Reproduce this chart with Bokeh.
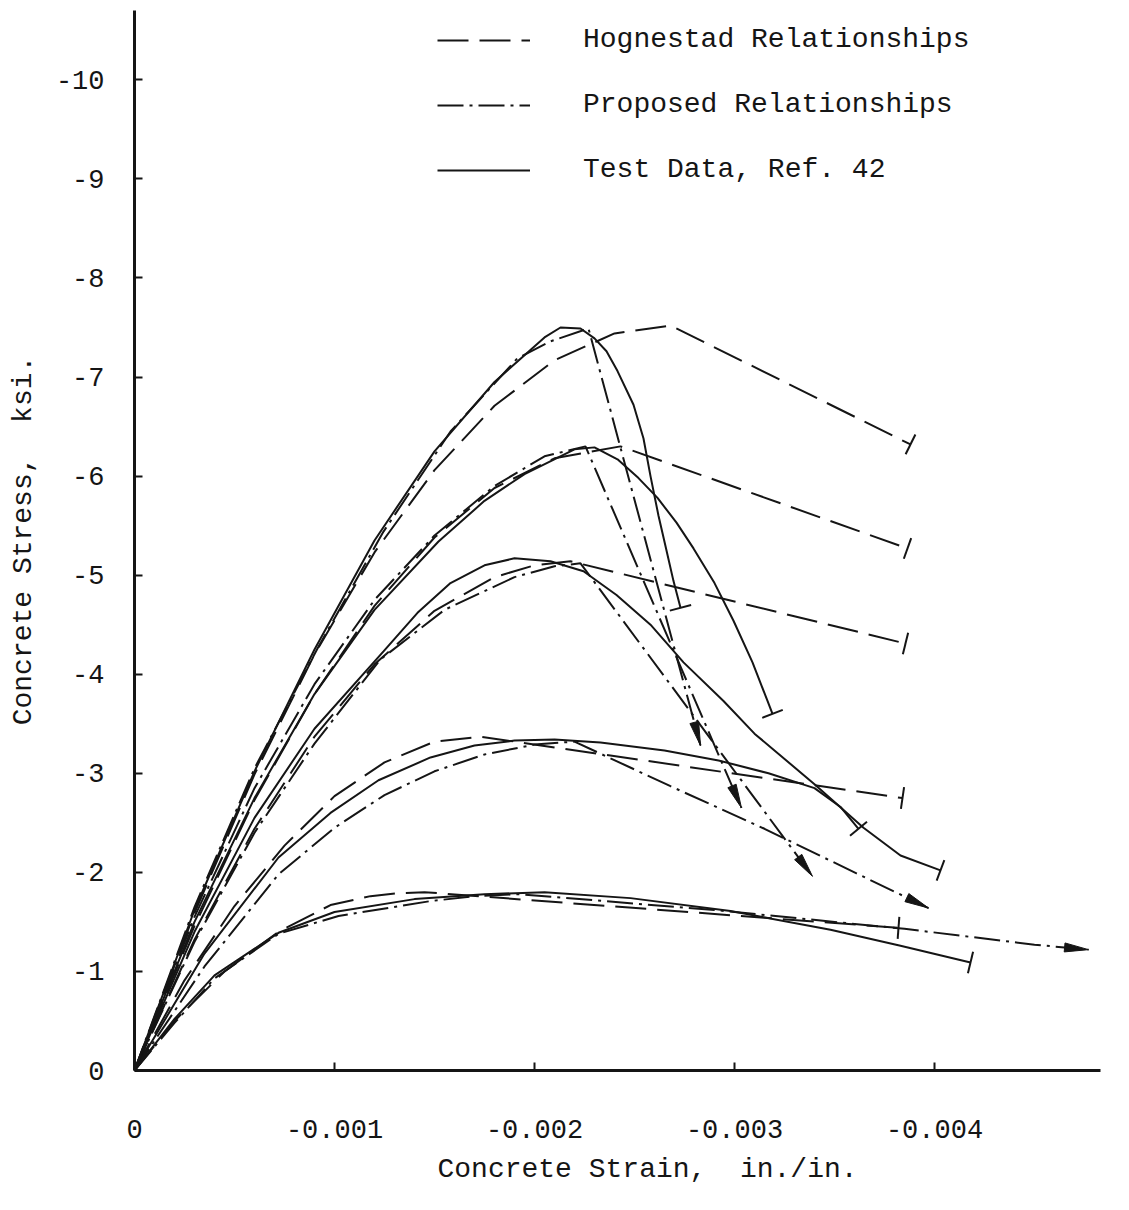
import math

from bokeh.embed import file_html
from bokeh.models import FixedTicker, Legend, LegendItem, Range1d, Title
from bokeh.plotting import figure
from bokeh.resources import INLINE

# Stress-strain curves for five concrete strengths.
# Strain is given in units of 1e-3 in./in. and stress in ksi, both as
# compressive magnitudes; they are plotted with a negative sign.

# f'c about 1.8 ksi
hog1_strain = [0, 0.2, 0.45, 0.72, 0.98, 1.18, 1.32, 1.45, 3.82]
hog1_stress = [0, 0.50, 1.00, 1.40, 1.67, 1.76, 1.79, 1.80, 1.44]
prop1_strain = [0, 0.2, 0.4, 0.72, 1.02, 1.48, 1.7, 1.92, 2.9, 3.85, 4.5, 4.77]
prop1_stress = [0, 0.48, 0.93, 1.38, 1.56, 1.71, 1.76, 1.78, 1.62, 1.43, 1.27, 1.22]
test1_strain = [0, 0.2, 0.4, 0.72, 1.0, 1.4, 1.75, 2.05, 2.48, 2.98, 3.48, 3.83, 4.18]
test1_stress = [0, 0.52, 0.96, 1.39, 1.60, 1.73, 1.78, 1.80, 1.74, 1.61, 1.42, 1.26, 1.09]

# f'c about 3.35 ksi
hog2_strain = [0, 0.25, 0.5, 0.75, 1.0, 1.25, 1.5, 1.73, 3.84]
hog2_stress = [0, 0.91, 1.66, 2.27, 2.77, 3.11, 3.32, 3.37, 2.75]
prop2_strain = [0, 0.35, 0.72, 1.0, 1.25, 1.5, 1.75, 2.0, 2.2, 2.68, 3.15, 3.61, 3.97]
prop2_stress = [0, 1.05, 1.98, 2.45, 2.78, 3.02, 3.19, 3.29, 3.32, 2.87, 2.44, 1.99, 1.64]
test2_strain = [0, 0.35, 0.72, 0.98, 1.22, 1.48, 1.7, 1.9, 2.1, 2.33, 2.65, 2.92,
                3.17, 3.4, 3.53, 3.62]
test2_stress = [0, 1.18, 2.15, 2.60, 2.93, 3.16, 3.28, 3.33, 3.34, 3.31, 3.23, 3.13,
                3.00, 2.85, 2.66, 2.44]

# f'c about 5.15 ksi
hog3_strain = [0, 0.3, 0.6, 0.9, 1.2, 1.5, 1.8, 2.0, 2.18, 3.855]
hog3_stress = [0, 1.32, 2.44, 3.37, 4.10, 4.64, 4.98, 5.10, 5.14, 4.31]
prop3_strain = [0, 0.3, 0.6, 0.9, 1.23, 1.55, 1.9, 2.1, 2.23, 3.39]
prop3_stress = [0, 1.30, 2.40, 3.30, 4.15, 4.65, 4.98, 5.09, 5.12, 1.96]
test3_strain = [0, 0.3, 0.6, 0.9, 1.245, 1.415, 1.58, 1.75, 1.9, 2.08, 2.245, 2.41,
                2.58, 2.745, 2.945, 3.1, 3.4, 3.645, 3.83, 4.03]
test3_stress = [0, 1.40, 2.55, 3.45, 4.23, 4.62, 4.92, 5.10, 5.17, 5.14, 5.04, 4.80,
                4.50, 4.12, 3.73, 3.40, 2.89, 2.45, 2.17, 2.02]

# f'c about 6.3 ksi
hog4_strain = [0, 0.3, 0.6, 0.9, 1.2, 1.5, 1.8, 2.1, 2.43, 3.865]
hog4_stress = [0, 1.46, 2.73, 3.80, 4.69, 5.38, 5.88, 6.18, 6.30, 5.27]
prop4_strain = [0, 0.3, 0.6, 0.9, 1.2, 1.5, 1.8, 2.05, 2.255, 3.035]
prop4_stress = [0, 1.55, 2.85, 3.90, 4.75, 5.40, 5.90, 6.20, 6.30, 2.65]
test4_strain = [0, 0.3, 0.6, 0.9, 1.2, 1.52, 1.75, 1.95, 2.2, 2.3, 2.415, 2.52,
                2.615, 2.71, 2.795, 2.9, 2.995, 3.09, 3.165, 3.19]
test4_stress = [0, 1.50, 2.75, 3.80, 4.65, 5.34, 5.75, 6.02, 6.27, 6.29, 6.17, 5.98,
                5.78, 5.53, 5.27, 4.92, 4.54, 4.12, 3.73, 3.60]

# f'c about 7.5 ksi
hog5_strain = [0, 0.3, 0.6, 0.9, 1.2, 1.5, 1.8, 2.1, 2.4, 2.68, 3.88]
hog5_stress = [0, 1.59, 2.99, 4.20, 5.23, 6.06, 6.71, 7.17, 7.44, 7.52, 6.32]
prop5_strain = [0, 0.3, 0.6, 0.915, 1.245, 1.58, 1.915, 2.08, 2.27, 2.83]
prop5_stress = [0, 1.65, 3.05, 4.26, 5.44, 6.45, 7.19, 7.36, 7.49, 3.28]
test5_strain = [0, 0.3, 0.6, 0.9, 1.2, 1.5, 1.8, 1.95, 2.05, 2.13, 2.23, 2.3, 2.36,
                2.415, 2.495, 2.545, 2.58, 2.62, 2.66, 2.695, 2.73]
test5_stress = [0, 1.62, 3.02, 4.25, 5.35, 6.25, 6.95, 7.22, 7.40, 7.50, 7.49, 7.39,
                7.26, 7.06, 6.72, 6.38, 6.00, 5.60, 5.25, 4.94, 4.67]

hognestad = [(hog1_strain, hog1_stress), (hog2_strain, hog2_stress),
             (hog3_strain, hog3_stress), (hog4_strain, hog4_stress),
             (hog5_strain, hog5_stress)]
proposed = [(prop1_strain, prop1_stress), (prop2_strain, prop2_stress),
            (prop3_strain, prop3_stress), (prop4_strain, prop4_stress),
            (prop5_strain, prop5_stress)]
tests = [(test1_strain, test1_stress), (test2_strain, test2_stress),
         (test3_strain, test3_stress), (test4_strain, test4_stress),
         (test5_strain, test5_stress)]

x_ticks = [0, -0.001, -0.002, -0.003, -0.004]
x_tick_labels = ["0", "-0.001", "-0.002", "-0.003", "-0.004"]
y_ticks = [0, -1, -2, -3, -4, -5, -6, -7, -8, -9, -10]
y_tick_labels = ["0", "-1", "-2", "-3", "-4", "-5", "-6", "-7", "-8", "-9", "-10"]

legend_labels = ["Hognestad Relationships", "Proposed Relationships",
                 "Test Data, Ref. 42"]
x_title = "Concrete Strain,\u00a0 in./in."
y_title = "Concrete Stress,\u00a0 ksi."

# ---------------------------------------------------------------- layout
FONT = "Liberation Mono"
INK = "#151515"
MILLI = 1e-3
X_END = 4.83      # right end of the strain axis, 1e-3 in./in.
Y_END = 10.7      # top end of the stress axis, ksi
LEFT, RIGHT, TOP, BOTTOM = 134, 29, 10, 140
WIDTH, HEIGHT = 1129, 1210
FRAME_W = WIDTH - LEFT - RIGHT
FRAME_H = HEIGHT - TOP - BOTTOM
PX_X = FRAME_W / X_END   # pixels per 1e-3 strain
PX_Y = FRAME_H / Y_END   # pixels per ksi

DASH = "31 11"
DASH_DOT = "26 6 3 6"
LW = 2.0


def plotted(strain, stress):
    return [-s * MILLI for s in strain], [-f for f in stress]


def end_direction(strain, stress):
    dx = (strain[-1] - strain[-2]) * PX_X
    dy = (stress[-1] - stress[-2]) * PX_Y
    n = math.hypot(dx, dy)
    return dx / n, dy / n


def end_bar(strain, stress, half=11.0):
    ux, uy = end_direction(strain, stress)
    nx, ny = -uy, ux
    s0, f0 = strain[-1] + nx * half / PX_X, stress[-1] + ny * half / PX_Y
    s1, f1 = strain[-1] - nx * half / PX_X, stress[-1] - ny * half / PX_Y
    (xa, xb), (ya, yb) = plotted([s0, s1], [f0, f1])
    return xa, ya, xb, yb


def arrow_head(strain, stress, length=24.0, half_w=4.5):
    ux, uy = end_direction(strain, stress)
    nx, ny = -uy, ux
    ts, tf = strain[-1], stress[-1]
    bs, bf = ts - ux * length / PX_X, tf - uy * length / PX_Y
    pts_s = [ts, bs + nx * half_w / PX_X, bs - nx * half_w / PX_X]
    pts_f = [tf, bf + ny * half_w / PX_Y, bf - ny * half_w / PX_Y]
    return plotted(pts_s, pts_f)


p = figure(
    width=WIDTH, height=HEIGHT,
    x_range=Range1d(0, -X_END * MILLI), y_range=Range1d(0, -Y_END),
    output_backend="svg", toolbar_location=None,
    min_border_left=LEFT, min_border_right=RIGHT,
    min_border_top=TOP, min_border_bottom=BOTTOM,
    y_axis_label=y_title,
)
p.outline_line_color = None
p.grid.visible = False
p.background_fill_color = "white"
p.border_fill_color = "white"

# Hognestad curves, each ending with a short bar
hog_renderer = None
for strain, stress in hognestad:
    xs, ys = plotted(strain, stress)
    r = p.line(xs, ys, line_color=INK, line_width=LW, line_dash=DASH)
    hog_renderer = hog_renderer or r
    x0, y0, x1, y1 = end_bar(strain, stress)
    p.segment(x0=[x0], y0=[y0], x1=[x1], y1=[y1], line_color=INK, line_width=2)

# Proposed curves, each ending with an arrowhead
prop_renderer = None
for strain, stress in proposed:
    xs, ys = plotted(strain, stress)
    r = p.line(xs, ys, line_color=INK, line_width=LW, line_dash=DASH_DOT)
    prop_renderer = prop_renderer or r
    hx, hy = arrow_head(strain, stress)
    p.patch(hx, hy, fill_color=INK, line_color=INK, line_width=1)

# Test data, each ending with a short bar
test_renderer = None
for strain, stress in tests:
    xs, ys = plotted(strain, stress)
    r = p.line(xs, ys, line_color=INK, line_width=LW)
    test_renderer = test_renderer or r
    x0, y0, x1, y1 = end_bar(strain, stress)
    p.segment(x0=[x0], y0=[y0], x1=[x1], y1=[y1], line_color=INK, line_width=2)

# Axes
for ax in (p.xaxis[0], p.yaxis[0]):
    ax.axis_line_color = INK
    ax.axis_line_width = 3
    ax.major_tick_line_color = INK
    ax.major_tick_line_width = 2
    ax.major_tick_in = 8
    ax.major_tick_out = 0
    ax.minor_tick_line_color = None
    ax.major_label_text_font = FONT
    ax.major_label_text_font_size = "27px"
    ax.major_label_text_color = INK
    ax.axis_label_text_font = FONT
    ax.axis_label_text_font_size = "28px"
    ax.axis_label_text_font_style = "normal"
    ax.axis_label_text_color = INK

p.xaxis[0].ticker = FixedTicker(ticks=x_ticks)
p.xaxis[0].major_label_overrides = dict(zip(x_ticks, x_tick_labels))
p.xaxis[0].major_label_standoff = 49

p.yaxis[0].ticker = FixedTicker(ticks=y_ticks)
p.yaxis[0].major_label_overrides = dict(zip(y_ticks, y_tick_labels))
p.yaxis[0].major_label_standoff = 30
p.yaxis[0].axis_label_standoff = 14

# Strain axis title, set a little right of the frame centre
p.add_layout(Title(
    text=x_title, align="left", offset=303, standoff=22,
    text_font=FONT, text_font_size="28px", text_font_style="normal",
    text_color=INK,
), "below")

legend = Legend(
    items=[LegendItem(label=legend_labels[0], renderers=[hog_renderer]),
           LegendItem(label=legend_labels[1], renderers=[prop_renderer]),
           LegendItem(label=legend_labels[2], renderers=[test_renderer])],
    location=(303, 885),
    orientation="vertical",
    glyph_width=93, glyph_height=30, label_height=30,
    label_standoff=53, spacing=34, padding=0, margin=0,
    border_line_color=None, background_fill_alpha=0,
    label_text_font=FONT, label_text_font_size="28px", label_text_color=INK,
)
p.add_layout(legend)

open("out.html", "w").write(file_html(p, INLINE))
